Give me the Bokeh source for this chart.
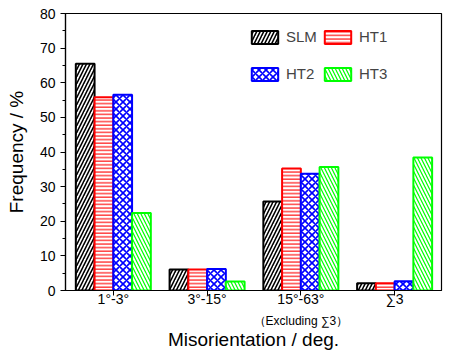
from bokeh.plotting import figure
from bokeh.models import Range1d, FixedTicker, Legend, LegendItem, LinearAxis, ColumnDataSource
from bokeh.embed import file_html
from bokeh.resources import INLINE

categories = ["1°-3°", "3°-15°", "15°-63°", "∑3"]
sub_labels = ["", "", "（Excluding ∑3）", ""]
series = ["SLM", "HT1", "HT2", "HT3"]
slm = [65.5, 6.1, 25.7, 2.1]
ht1 = [55.8, 6.1, 35.2, 2.1]
ht2 = [56.5, 6.2, 33.7, 2.7]
ht3 = [22.4, 2.6, 35.7, 38.4]
y_ticks = [0, 10, 20, 30, 40, 50, 60, 70, 80]

colors = ["black", "red", "blue", "#00ff00"]
hatches = ["/", "-", "x", "\\"]
hatch_scales = [7, 3.6, 7, 7]
hatch_weights = [1.6, 1.1, 1.6, 1.2]
values = [slm, ht1, ht2, ht3]

FONT = "Liberation Sans"
W = 0.2

p = figure(frame_width=376, frame_height=277, output_backend="svg", toolbar_location=None,
           x_range=Range1d(0.49, 4.5), y_range=Range1d(0, 80),
           min_border_left=65, min_border_right=11, min_border_top=13, min_border_bottom=67)
p.xgrid.visible = False
p.ygrid.visible = False
p.outline_line_color = "black"
p.outline_line_width = 1.2

xs = [i + 1 for i in range(len(categories))]
renderers = []
for k, (name, vals) in enumerate(zip(series, values)):
    src = ColumnDataSource(dict(x=[x + (k - 1.5) * W for x in xs], top=vals))
    r = p.vbar(x="x", top="top", width=W, source=src, fill_color="white",
               line_color=colors[k], line_width=2, hatch_pattern=hatches[k],
               hatch_color=colors[k], hatch_scale=hatch_scales[k], hatch_weight=hatch_weights[k])
    renderers.append(r)

p.xaxis.ticker = FixedTicker(ticks=xs)
p.xaxis.major_label_overrides = {x: c for x, c in zip(xs, categories)}
p.xaxis.minor_tick_line_color = None
p.xaxis.major_tick_out = 5
p.xaxis.major_tick_in = 0
p.xaxis.major_label_standoff = -5

p.yaxis.ticker = FixedTicker(ticks=y_ticks, minor_ticks=list(range(0, 81, 5)))
p.yaxis.major_tick_out = 5
p.yaxis.major_tick_in = 0
p.yaxis.minor_tick_out = 3
p.yaxis.minor_tick_in = 0
p.yaxis.axis_label = "Frequency / %"
p.yaxis.axis_label_standoff = 10

sub_axis = LinearAxis(ticker=FixedTicker(ticks=xs),
                      major_label_overrides={x: s for x, s in zip(xs, sub_labels)},
                      axis_line_color=None, major_tick_line_color=None, minor_tick_line_color=None,
                      major_tick_out=0, major_tick_in=0, major_label_standoff=4,
                      major_label_text_font=FONT, major_label_text_font_size="12px",
                      major_label_text_color="black",
                      axis_label="Misorientation / deg.", axis_label_standoff=-2,
                      axis_label_text_font=FONT, axis_label_text_font_size="19px",
                      axis_label_text_font_style="normal", axis_label_text_color="black")
p.add_layout(sub_axis, "below")

for ax in (p.xaxis[0], p.yaxis[0]):
    ax.axis_line_color = "black"
    ax.axis_line_width = 1.2
    ax.major_tick_line_color = "black"
    ax.major_label_text_font = FONT
    ax.major_label_text_font_size = "14px"
    ax.major_label_text_color = "black"
    ax.axis_label_text_font = FONT
    ax.axis_label_text_font_size = "19px"
    ax.axis_label_text_font_style = "normal"
    ax.axis_label_text_color = "black"

rows = [[0, 1], [2, 3]]
row_y = [245, 208]
for row, ly in zip(rows, row_y):
    lg = Legend(items=[LegendItem(label=series[i], renderers=[renderers[i]]) for i in row],
                orientation="horizontal", location=(183, ly), padding=0, margin=0, spacing=4,
                glyph_width=33, glyph_height=16, label_standoff=5, label_width=31,
                label_text_font=FONT, label_text_font_size="15px",
                background_fill_alpha=0, border_line_alpha=0)
    p.add_layout(lg)

open("out.html", "w").write(file_html(p, INLINE))
